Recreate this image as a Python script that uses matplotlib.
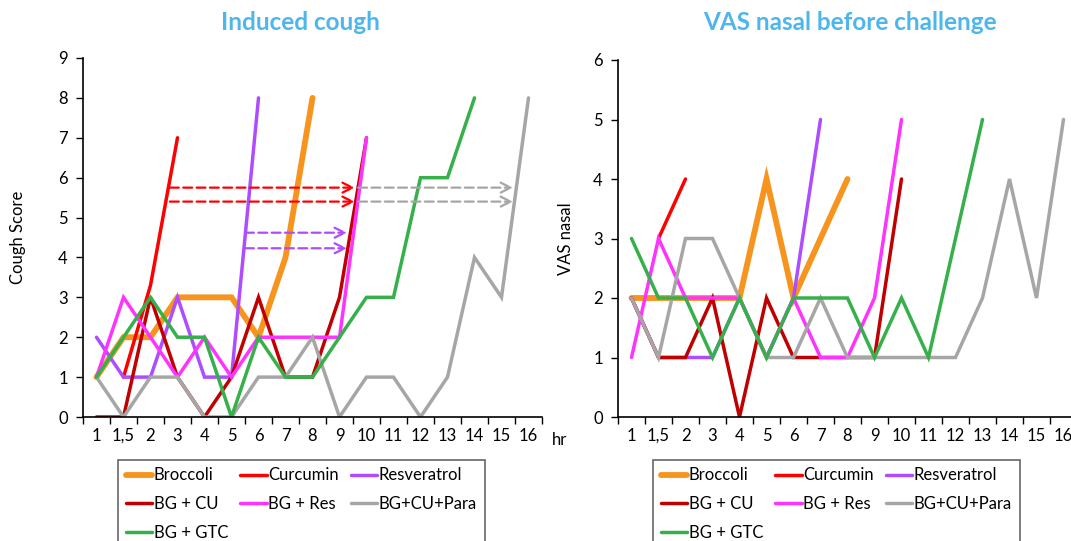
import numpy as np
import matplotlib
matplotlib.use('Agg')
import matplotlib.pyplot as plt

plt.rcParams['font.family'] = ['Lato', 'DejaVu Sans']

# x categories (hours)
hours = ['1', '1,5', '2', '3', '4', '5', '6', '7', '8', '9', '10', '11', '12', '13', '14', '15', '16']

names = ['Broccoli', 'Curcumin', 'Resveratrol', 'BG + CU', 'BG + Res', 'BG+CU+Para', 'BG + GTC']
colors = ['#F7941D', '#FF0000', '#AD4DFF', '#C00000', '#FF33FF', '#A6A6A6', '#36B04A']
widths = [4.2, 2.5, 2.5, 2.5, 2.5, 2.5, 2.5]

nan = np.nan
# Induced cough scores
cough_broccoli = [1, 2, 2, 3, 3, 3, 2, 4, 8]
cough_curcumin = [nan, 1, 3.3, 7]
cough_resveratrol = [2, 1, 1, 3, 1, 1, 8]
cough_bg_cu = [0, 0, 3, 1, 0, 1, 3, 1, 1, 3, 7]
cough_bg_res = [1, 3, 2, 1, 2, 1, 2, 2, 2, 2, 7]
cough_bg_cu_para = [1, 0, 1, 1, 0, 0, 1, 1, 2, 0, 1, 1, 0, 1, 4, 3, 8]
cough_bg_gtc = [1, 2, 3, 2, 2, 0, 2, 1, 1, 2, 3, 3, 6, 6, 8]

# VAS nasal before challenge
vas_broccoli = [2, 2, 2, 2, 2, 4, 2, 3, 4]
vas_curcumin = [nan, 3, 4]
vas_resveratrol = [2, 1, 1, 1, 2, 1, 2, 5]
vas_bg_cu = [2, 1, 1, 2, 0, 2, 1, 1, 1, 1, 4]
vas_bg_res = [1, 3, 2, 2, 2, 1, 2, 1, 1, 2, 5]
vas_bg_cu_para = [2, 1, 3, 3, 2, 1, 1, 2, 1, 1, 1, 1, 1, 2, 4, 2, 5]
vas_bg_gtc = [3, 2, 2, 1, 2, 1, 2, 2, 2, 1, 2, 1, 3, 5]

cough_series = [cough_broccoli, cough_curcumin, cough_resveratrol, cough_bg_cu,
                cough_bg_res, cough_bg_cu_para, cough_bg_gtc]
vas_series = [vas_broccoli, vas_curcumin, vas_resveratrol, vas_bg_cu,
              vas_bg_res, vas_bg_cu_para, vas_bg_gtc]

# dashed arrows on the cough chart: (x start, x end, y, colour)
arrow_x0 = [2.72, 2.72, 9.69, 9.69, 5.5, 5.5]
arrow_x1 = [9.57, 9.57, 15.43, 15.43, 9.28, 9.28]
arrow_y = [5.75, 5.4, 5.75, 5.4, 4.62, 4.23]
arrow_c = ['#FF0000', '#FF0000', '#A6A6A6', '#A6A6A6', '#AD4DFF', '#AD4DFF']

title_color = '#4DB6EC'

fig = plt.figure(figsize=(10.71, 5.41), dpi=100)
ax1 = fig.add_axes([83 / 1071, 1 - 417 / 541, 459 / 1071, 359 / 541])
ax2 = fig.add_axes([618 / 1071, 1 - 417 / 541, 459 / 1071, 357 / 541])


def setup(ax, ymax, ylabel):
    ax.set_xlim(-0.5, len(hours) - 0.5)
    ax.set_ylim(0, ymax)
    ax.set_yticks(range(ymax + 1))
    ax.set_xticks(np.arange(len(hours) + 1) - 0.5)
    ax.set_xticklabels([])
    ax.set_xticks(range(len(hours)), minor=True)
    ax.set_xticklabels(hours, minor=True)
    ax.tick_params(axis='x', which='major', direction='out', length=5, width=1)
    ax.tick_params(axis='x', which='minor', length=0, pad=8, labelsize=12)
    ax.tick_params(axis='y', direction='out', length=5, width=1, labelsize=12, pad=6)
    for s in ['top', 'right']:
        ax.spines[s].set_visible(False)
    for s in ['left', 'bottom']:
        ax.spines[s].set_linewidth(1.2)
    ax.set_ylabel(ylabel, fontsize=12)


for ax, data in [(ax1, cough_series), (ax2, vas_series)]:
    lines = []
    for vals, name, c, w in zip(data, names, colors, widths):
        x = np.arange(len(vals))
        ln, = ax.plot(x, vals, color=c, lw=w, label=name, solid_capstyle='round',
                      solid_joinstyle='miter')
        lines.append(ln)
    # legend row-wise like Excel
    order = [0, 3, 6, 1, 4, 2, 5]
    anchor = (118 / 1071, 1 - 460 / 541) if ax is ax1 else (653 / 1071, 1 - 460 / 541)
    leg = fig.legend([lines[i] for i in order], [names[i] for i in order], ncol=3,
                     loc='upper left', bbox_to_anchor=anchor, frameon=True, fancybox=False,
                     fontsize=12, handlelength=1.6, handletextpad=0.1, labelspacing=0.75,
                     columnspacing=0.7, borderpad=0.45, borderaxespad=0)
    leg.get_frame().set_edgecolor('#404040')
    leg.get_frame().set_linewidth(1.2)

setup(ax1, 9, 'Cough Score')
setup(ax2, 6, 'VAS nasal')
ax1.yaxis.set_label_coords(-0.125, 0.5)
ax2.yaxis.set_label_coords(-0.095, 0.5)

for x0, x1, y, c in zip(arrow_x0, arrow_x1, arrow_y, arrow_c):
    ax1.annotate('', xy=(x1, y), xytext=(x0, y),
                 arrowprops=dict(arrowstyle='->', color=c, lw=1.6, linestyle=(0, (4, 2)),
                                 mutation_scale=18, shrinkA=0, shrinkB=0))

ax1.text(1.022, -0.065, 'hr', transform=ax1.transAxes, fontsize=12, va='center', ha='left')

fig.text(300 / 1071, 1 - 22 / 541, 'Induced cough', color=title_color, fontsize=17.5,
         fontweight='bold', ha='center', va='center')
fig.text(850 / 1071, 1 - 22 / 541, 'VAS nasal before challenge', color=title_color, fontsize=17.5,
         fontweight='bold', ha='center', va='center')

fig.savefig('out.png', dpi=100)
